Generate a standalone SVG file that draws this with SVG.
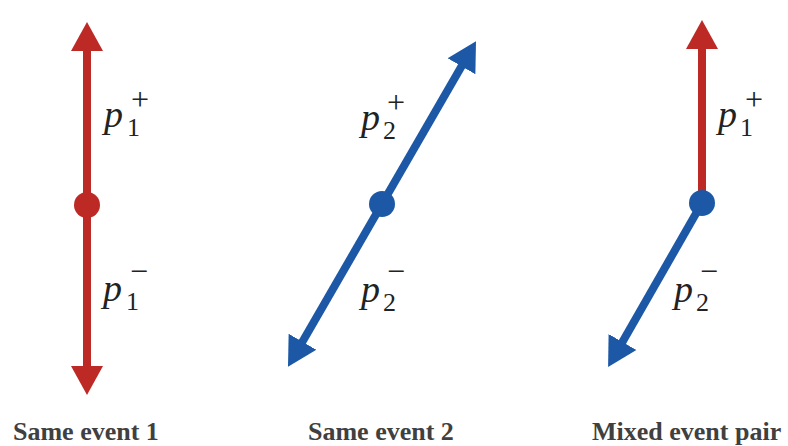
<svg xmlns="http://www.w3.org/2000/svg" width="788" height="446" viewBox="0 0 788 446">
<style>
.red{stroke:#bd2a26;stroke-width:8;fill:none}
.blue{stroke:#1c58a6;stroke-width:8;fill:none}
.dr{fill:#bd2a26}
.db{fill:#1c58a6}
.p{font-style:italic;font-size:38px;fill:#222}
.s{font-size:26px;fill:#222}
.o{font-size:32px;fill:#222}
.cap{font-weight:bold;font-size:26px;fill:#404040}
</style>
<defs>
<marker id="ar" markerUnits="userSpaceOnUse" viewBox="0 0 29 34" markerWidth="29" markerHeight="34" refX="1" refY="17" orient="auto"><path d="M0,1 L29,17 L0,33 Z" fill="#bd2a26"/></marker>
<marker id="ab" markerUnits="userSpaceOnUse" viewBox="0 0 29 34" markerWidth="29" markerHeight="34" refX="1" refY="17" orient="auto"><path d="M0,1 L29,17 L0,33 Z" fill="#1c58a6"/></marker>
</defs>
<g id="connectors">
<line class="red" x1="87" y1="205" x2="87" y2="50" marker-end="url(#ar)"/>
<line class="red" x1="87" y1="205" x2="87" y2="367" marker-end="url(#ar)"/>
<line class="blue" x1="382" y1="204" x2="462" y2="65.4" marker-end="url(#ab)"/>
<line class="blue" x1="382" y1="204" x2="302" y2="342.6" marker-end="url(#ab)"/>
<line class="red" x1="702" y1="203" x2="702" y2="48" marker-end="url(#ar)"/>
<line class="blue" x1="702" y1="203" x2="622" y2="342.8" marker-end="url(#ab)"/>
</g>
<g id="event1" font-family="Liberation Serif">
<circle class="dr" cx="87" cy="205" r="13"/>
<text class="p" font-family="Liberation Serif" x="104" y="127">p</text><text class="s" font-family="Liberation Serif" x="127" y="136">1</text><text class="o" font-family="Liberation Serif" x="131" y="110">+</text>
<text class="p" font-family="Liberation Serif" x="103" y="301">p</text><text class="s" font-family="Liberation Serif" x="126" y="310">1</text><text class="o" font-family="Liberation Serif" x="130" y="282">−</text>
<text class="cap" font-family="Liberation Serif" x="13" y="440">Same event 1</text>
</g>
<g id="event2" font-family="Liberation Serif">
<circle class="db" cx="382" cy="204" r="13"/>
<text class="p" font-family="Liberation Serif" x="361" y="130">p</text><text class="s" font-family="Liberation Serif" x="383" y="139">2</text><text class="o" font-family="Liberation Serif" x="387" y="113">+</text>
<text class="p" font-family="Liberation Serif" x="361" y="302">p</text><text class="s" font-family="Liberation Serif" x="383" y="311">2</text><text class="o" font-family="Liberation Serif" x="387" y="282">−</text>
<text class="cap" font-family="Liberation Serif" x="308" y="440">Same event 2</text>
</g>
<g id="mixed" font-family="Liberation Serif">
<circle class="db" cx="702" cy="203" r="13"/>
<text class="p" font-family="Liberation Serif" x="718" y="127">p</text><text class="s" font-family="Liberation Serif" x="740" y="136">1</text><text class="o" font-family="Liberation Serif" x="745" y="110">+</text>
<text class="p" font-family="Liberation Serif" x="674" y="302">p</text><text class="s" font-family="Liberation Serif" x="696" y="311">2</text><text class="o" font-family="Liberation Serif" x="700" y="282">−</text>
<text class="cap" font-family="Liberation Serif" x="592" y="440">Mixed event pair</text>
</g>
</svg>
